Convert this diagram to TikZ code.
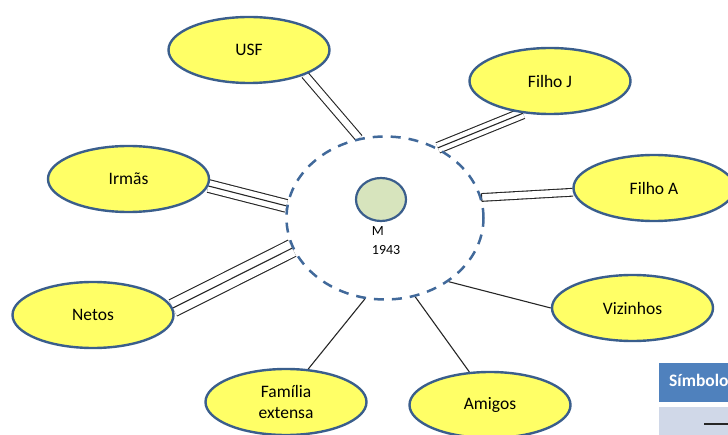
\documentclass[tikz,border=0pt]{standalone}
\usepackage{fontspec}
\setmainfont{Carlito}
\usetikzlibrary{shapes.geometric,backgrounds,calc}
\definecolor{bubblefill}{HTML}{FFFF66}
\definecolor{bubbleedge}{HTML}{3A5E8C}
\definecolor{ringedge}{HTML}{41699A}
\definecolor{egofill}{HTML}{D7E4BD}
\definecolor{headblue}{HTML}{4F81BD}
\definecolor{rowblue}{HTML}{D0D8E8}
\definecolor{linkcol}{HTML}{262626}
\begin{document}
\begin{tikzpicture}[x=1pt,y=-1pt,
  bubble/.style={ellipse, draw=bubbleedge, line width=2.4pt, fill=bubblefill,
    minimum width=161pt, minimum height=66pt, inner sep=0pt,
    font=\fontsize{17.5}{21}\selectfont, align=center},
  ringshape/.style={ellipse, draw=ringedge, line width=2.5pt,
    dash pattern=on 10pt off 8pt, minimum width=197pt, minimum height=163pt, inner sep=0pt},
  ego/.style={ellipse, draw=bubbleedge, line width=2.2pt, fill=egofill,
    minimum width=50pt, minimum height=43pt, inner sep=0pt},
  egotext/.style={anchor=west, inner sep=0pt, font=\fontsize{14}{16}\selectfont},
  conn/.style={draw=linkcol, line width=1.1pt},
  pairline/.style={conn, double=white, double distance=#1},
]
\useasboundingbox (0,0) rectangle (728,435);
\clip (0,0) rectangle (728,435);

% central person and her network boundary
\node[ringshape] (ring) at (385,218) {};
\node[ego] (ego) at (381,199.5) {};
\node[egotext] (egoname) at (371.7,231.5) {M};
\node[egotext] (egoyear) at (371.7,250) {1943};

% network members
\node[bubble] (usf) at (249,50) {USF};
\node[bubble] (filhoj) at (550,81) {Filho J};
\node[bubble] (irmas) at (128.5,179) {Irmãs};
\node[bubble] (filhoa) at (654,188) {Filho A};
\node[bubble] (netos) at (93,315) {Netos};
\node[bubble] (vizinhos) at (632.5,308) {Vizinhos};
\node[bubble] (familia) at (286,402) {Família\\extensa};
\node[bubble] (amigos) at (490,405) {Amigos};

% links, kept behind the shapes
\begin{pgfonlayer}{background}
  % strong links (double)
  \draw[pairline=6.6pt] (usf.-24.8) -- (ring.108);
  \draw[pairline=6.6pt] (ring.12.7) -- (filhoa.-177.3);
  \draw[conn] ($(ring.12.7)!3.85pt!90:(filhoa.-177.3)$) -- ($(ring.12.7)!3.85pt!-90:(filhoa.-177.3)$);
  % very strong links (triple)
  \draw[pairline=9.8pt] (ring.53.9) -- (filhoj.-130.8);
  \draw[conn] (ring.53.9) -- (filhoj.-130.8);
  \draw[pairline=11.6pt] (irmas.-5.3) -- (ring.173.8);
  \draw[conn] (irmas.-5.3) -- (ring.173.8);
  \draw[pairline=16.8pt] (netos.5) -- (ring.198);
  \draw[conn] (netos.5) -- (ring.198);
  % ordinary links
  \draw[conn] (ring.-45.5) -- (vizinhos.west);
  \draw[conn] (ring.-104.4) -- (familia.56);
  \draw[conn] (ring.-69.7) -- (amigos.122.3);
\end{pgfonlayer}

% legend table
\node[fill=headblue, anchor=north west, minimum width=80pt, minimum height=39pt, inner sep=0pt] (symhead) at (659,363) {};
\node[anchor=west, inner sep=0pt, text=white, font=\bfseries\fontsize{17.5}{21}\selectfont] (symtitle) at (669,380.5) {Símbolo};
\node[fill=rowblue, anchor=north west, minimum width=80pt, minimum height=30pt, inner sep=0pt] (symrow) at (659,407) {};
\draw[linkcol, line width=1.3pt] (704,424) -- (740,424);
\end{tikzpicture}
\end{document}
